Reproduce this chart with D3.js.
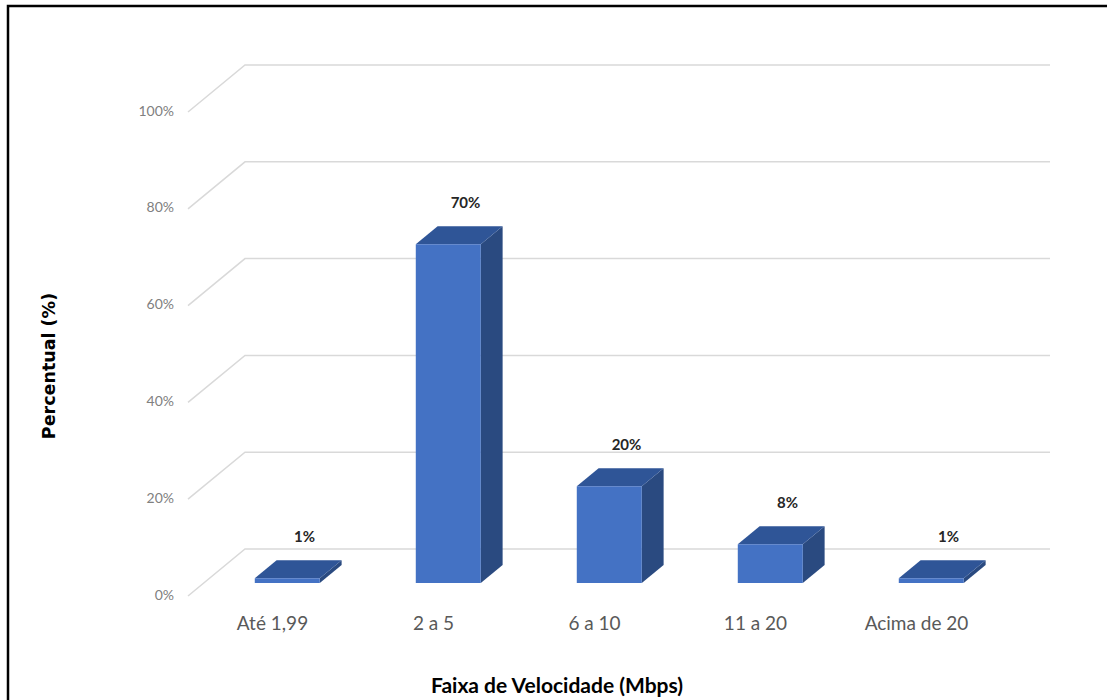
<!DOCTYPE html>
<html>
<head>
<meta charset="utf-8">
<script src="https://cdn.jsdelivr.net/npm/d3@7/dist/d3.min.js"></script>
<style>
  html, body { margin: 0; padding: 0; background: #fff; }
  svg { display: block; }
</style>
</head>
<body>
<svg id="chart" width="1107" height="700"></svg>
<script>
// Speed ranges and share of connections (%)
const categories = ["Até 1,99", "2 a 5", "6 a 10", "11 a 20", "Acima de 20"];
const values = [1, 70, 20, 8, 1];
const yTicks = [0, 20, 40, 60, 80, 100];
const yTickLabels = ["0%", "20%", "40%", "60%", "80%", "100%"];
const xTitle = "Faixa de Velocidade (Mbps)";
const yTitle = "Percentual (%)";

const svg = d3.select("#chart");
const font = "Lato, 'Open Sans', 'Liberation Sans', sans-serif";

// Frame around the figure (runs off the right and bottom edges)
svg.append("path")
  .attr("d", "M8,702 L8,6 L1109,6")
  .attr("fill", "none")
  .attr("stroke", "#000")
  .attr("stroke-width", 2.5);

// 3D projection: front plane origin, depth offset of the back wall
const frontLeft = 188, frontBottom = 596;
const depthDX = 57, depthDY = -47;

const x = d3.scaleBand().domain(categories).range([0, 805]).paddingInner(0).paddingOuter(0);
const y = d3.scaleLinear().domain([0, 100]).range([0, 484]);

// Project (band x offset, value, depth z in [0 front .. 1 back]) to screen
function proj(px, v, z) {
  return [frontLeft + px + depthDX * z, frontBottom - y(v) + depthDY * z];
}

// Gridlines: side diagonal then back-wall horizontal
const grid = svg.append("g");
yTicks.forEach(t => {
  const a = proj(0, t, 0), b = proj(0, t, 1), c = proj(805, t, 1);
  grid.append("path")
    .attr("d", `M${a[0]},${a[1]} L${b[0]},${b[1]} L${c[0]},${c[1]}`)
    .attr("fill", "none")
    .attr("stroke", "#d9d9d9")
    .attr("stroke-width", 1.5);
});

// Y tick labels
svg.append("g").selectAll("text")
  .data(yTicks)
  .join("text")
  .attr("x", 174)
  .attr("y", (d) => proj(0, d, 0)[1])
  .attr("text-anchor", "end")
  .attr("dominant-baseline", "middle")
  .attr("font-family", font)
  .attr("font-size", 14)
  .attr("fill", "#808080")
  .text((d, i) => yTickLabels[i]);

// Bars as 3D boxes
const z0 = 0.277, z1 = 0.66;
const barW = 65;
const bars = svg.append("g");
categories.forEach((cat, i) => {
  const v = values[i];
  const cx = x(cat) + x.bandwidth() / 2 + 3;
  const l = cx - barW / 2, r = cx + barW / 2;
  const fbl = proj(l, 0, z0), fbr = proj(r, 0, z0);
  const ftl = proj(l, v, z0), ftr = proj(r, v, z0);
  const btl = proj(l, v, z1), btr = proj(r, v, z1);
  const bbr = proj(r, 0, z1);
  const pts = (arr) => arr.map(p => p.join(",")).join(" ");
  // side face
  bars.append("polygon")
    .attr("points", pts([fbr, ftr, btr, bbr]))
    .attr("fill", "#2a4a80");
  // top face
  bars.append("polygon")
    .attr("points", pts([ftl, btl, btr, ftr]))
    .attr("fill", "#2f5597");
  // front face
  bars.append("polygon")
    .attr("points", pts([fbl, ftl, ftr, fbr]))
    .attr("fill", "#4472c4");
  // value label above the bar
  const lab = proj(cx, v, 1);
  bars.append("text")
    .attr("x", lab[0] - 24)
    .attr("y", lab[1] - 6)
    .attr("text-anchor", "middle")
    .attr("dominant-baseline", "middle")
    .attr("font-family", font)
    .attr("font-weight", "bold")
    .attr("font-size", 15)
    .attr("fill", "#262626")
    .text(v + "%");
});

// Category labels
svg.append("g").selectAll("text")
  .data(categories)
  .join("text")
  .attr("x", (d) => frontLeft + x(d) + x.bandwidth() / 2 + 4)
  .attr("y", 625)
  .attr("text-anchor", "middle")
  .attr("dominant-baseline", "middle")
  .attr("font-family", font)
  .attr("font-size", 19)
  .attr("fill", "#595959")
  .text((d) => d);

// Axis titles
svg.append("text")
  .attr("x", 557)
  .attr("y", 688)
  .attr("text-anchor", "middle")
  .attr("dominant-baseline", "middle")
  .attr("font-family", font)
  .attr("font-weight", "bold")
  .attr("font-size", 21)
  .attr("fill", "#000")
  .text(xTitle);

svg.append("text")
  .attr("transform", "translate(50,366) rotate(-90)")
  .attr("text-anchor", "middle")
  .attr("dominant-baseline", "middle")
  .attr("font-family", "'DejaVu Sans', sans-serif")
  .attr("font-weight", "bold")
  .attr("font-size", 17.5)
  .attr("fill", "#000")
  .text(yTitle);
</script>
</body>
</html>
